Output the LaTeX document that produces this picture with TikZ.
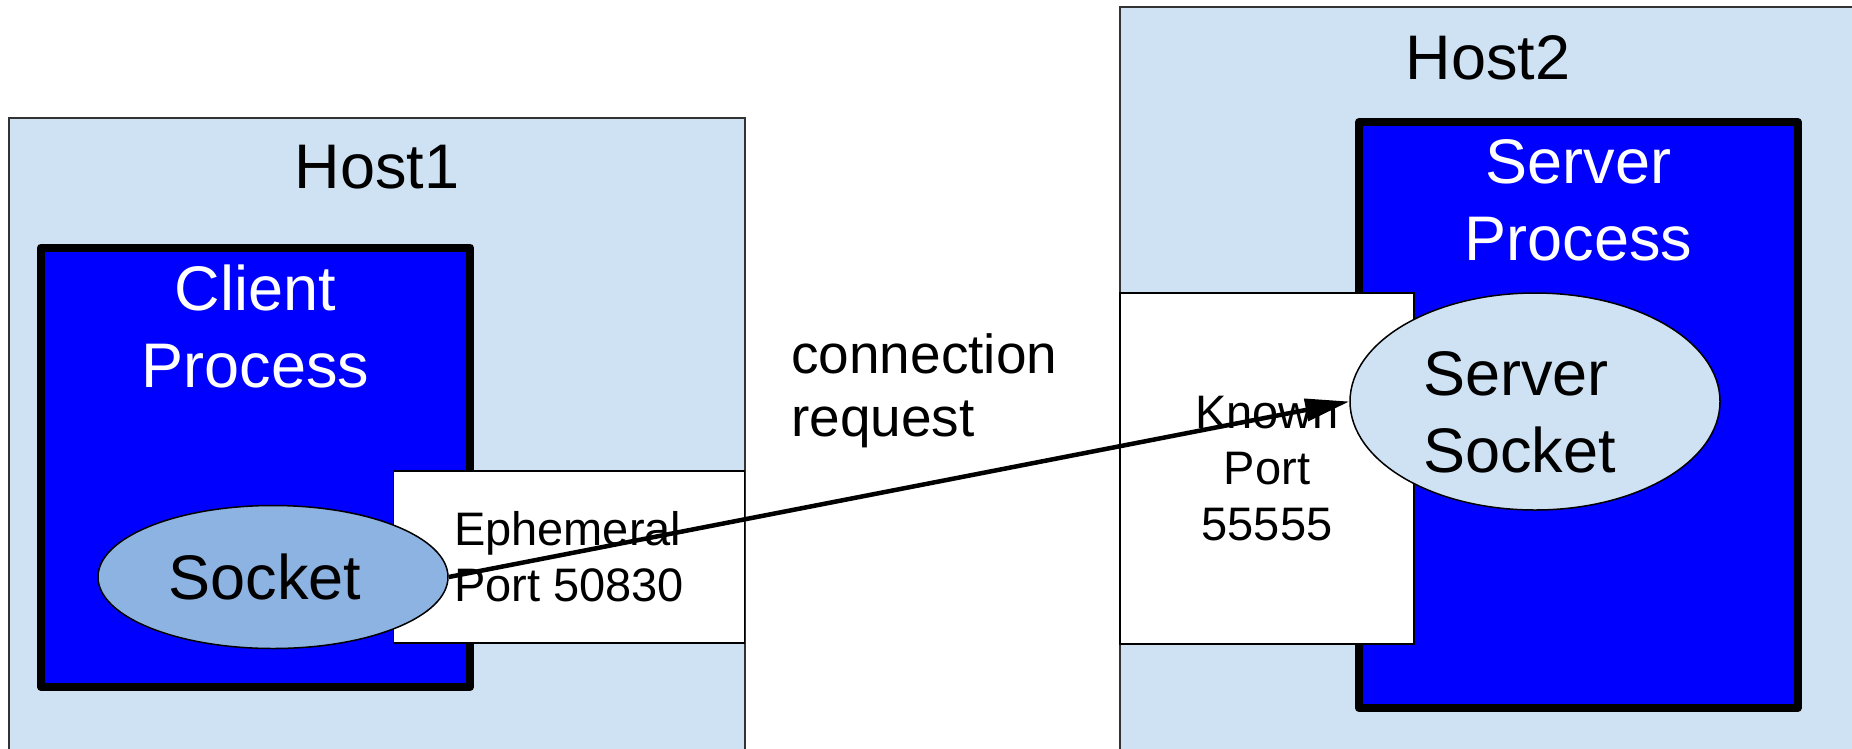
\documentclass[tikz,border=0pt]{standalone}
\usepackage{fontspec}
\setmainfont{Liberation Sans}
\usetikzlibrary{positioning,shapes.geometric,arrows.meta}

\definecolor{hostblue}{HTML}{CFE2F3}
\definecolor{procblue}{HTML}{0000FF}
\definecolor{sockblue}{HTML}{8DB3E2}

\newcommand\hostfont{\fontsize{63}{77}\selectfont}
\newcommand\portfont{\fontsize{47}{56}\selectfont}
\newcommand\reqfont{\fontsize{55}{63}\selectfont}

\tikzset{
  hostbox/.style={draw=black!80,line width=1.5pt,fill=hostblue,anchor=north west,outer sep=0pt,
    minimum width=736pt,minimum height=800pt},
  procbox/.style={draw,line width=8pt,line join=round,fill=procblue,anchor=north west,outer sep=0pt},
  portbox/.style={draw,line width=1.5pt,fill=white,anchor=north west,outer sep=0pt,font=\portfont},
  sockel/.style={ellipse,draw,line width=1.5pt,inner sep=0pt,font=\hostfont},
  hostlbl/.style={inner sep=0pt,font=\hostfont},
  proclbl/.style={inner sep=0pt,font=\hostfont,text=white,align=center},
  conn/.style={line width=4.5pt,-{Triangle[length=44pt,width=22pt]}}
}

\begin{document}
\begin{tikzpicture}[x=1pt,y=-1pt]
\useasboundingbox (0,0) rectangle (1852,748);
\clip (0,0) rectangle (1852,748);

\node[hostbox] (host1) at (9,118) {};
\node[hostbox] (host2) at (1120,7) {};
\node[hostlbl,below=27pt of host1.north] (h1txt) {Host1};
\node[hostlbl,below=28pt of host2.north] (h2txt) {Host2};

\node[procbox,minimum width=429pt,minimum height=439.5pt] (cproc) at (41,247.5) {};
\node[procbox,minimum width=438.5pt,minimum height=586pt] (sproc) at (1359,122) {};
\node[proclbl,below=17.5pt of cproc.north] (cptxt) {Client\\Process};
\node[proclbl,below=17pt of sproc.north] (sptxt) {Server\\Process};

\node[portbox,minimum width=351pt,minimum height=172pt,align=left] (eport) at (393.5,471)
  {Ephemeral\\Port 50830};
\node[portbox,minimum width=294pt,minimum height=351pt,align=center] (kport) at (1120,293)
  {Known\\Port\\55555};

\node[sockel,fill=sockblue,minimum width=350pt,minimum height=143pt] (sock) at (273,577) {Socket\hspace*{16pt}};
\node[sockel,fill=hostblue,minimum width=370pt,minimum height=217pt] (ssock) at (1535,401.5) {};
\node[hostlbl,align=left,anchor=north west] (sstxt) at (1423,351) {Server\\Socket};

\node[inner sep=0pt,font=\reqfont,align=left,anchor=north west] (req) at (791,333)
  {connection\\request};

\draw[conn] (sock.east) -- (ssock.west);
\end{tikzpicture}
\end{document}
